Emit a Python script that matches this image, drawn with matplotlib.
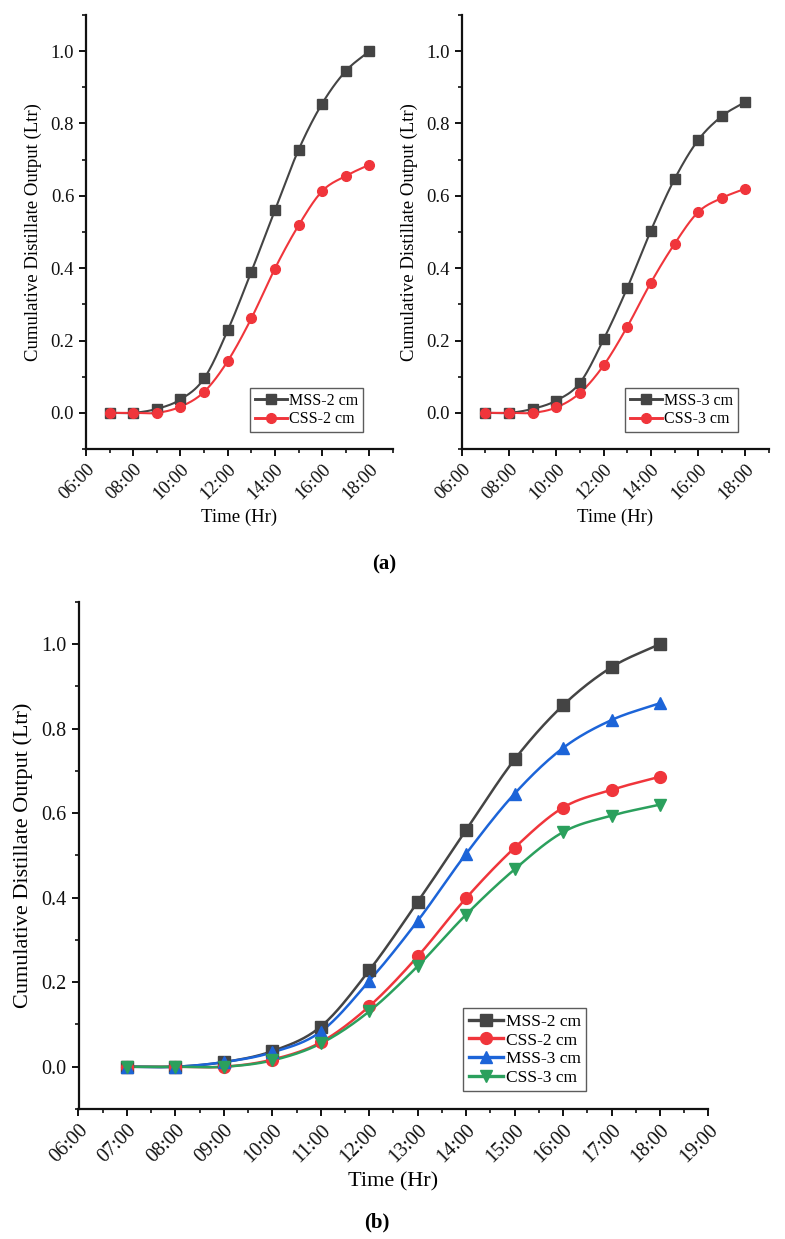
#!/usr/bin/env python3
"""Cumulative distillate output of MSS / CSS stills, panels (a) and (b)."""

import matplotlib
matplotlib.use("Agg")
import matplotlib.pyplot as plt
import numpy as np
from matplotlib.ticker import FuncFormatter, MultipleLocator

plt.rcParams["font.family"] = ["Liberation Serif", "DejaVu Serif"]

# hours of the day (07:00 .. 18:00)
HOURS = [7, 8, 9, 10, 11, 12, 13, 14, 15, 16, 17, 18]

MSS_2 = [0.0, 0.0, 0.011, 0.037, 0.095, 0.228, 0.390, 0.560, 0.727, 0.855, 0.945, 1.000]
CSS_2 = [0.0, 0.0, 0.0, 0.017, 0.058, 0.143, 0.261, 0.399, 0.518, 0.613, 0.655, 0.686]
MSS_3 = [0.0, 0.0, 0.011, 0.034, 0.083, 0.203, 0.345, 0.504, 0.646, 0.754, 0.820, 0.860]
CSS_3 = [0.0, 0.0, 0.0, 0.015, 0.055, 0.131, 0.238, 0.360, 0.467, 0.555, 0.594, 0.620]

NAMES = ["MSS-2 cm", "CSS-2 cm", "MSS-3 cm", "CSS-3 cm"]
SERIES = [MSS_2, CSS_2, MSS_3, CSS_3]

GREY = "#444444"
RED = "#F0353B"
BLUE = "#1C64D8"
GREEN = "#2BA05D"

YLABEL = "Cumulative Distillate Output (Ltr)"
XLABEL = "Time (Hr)"


def smooth(x, y, n=20):
    # cubic Hermite curve through the measured points (line only)
    x = np.asarray(x, float)
    y = np.asarray(y, float)
    m = np.gradient(y, x)
    xs, ys = [], []
    for i in range(len(x) - 1):
        h = x[i + 1] - x[i]
        t = np.linspace(0, 1, n, endpoint=False)
        h00 = 2 * t**3 - 3 * t**2 + 1
        h10 = t**3 - 2 * t**2 + t
        h01 = -2 * t**3 + 3 * t**2
        h11 = t**3 - t**2
        xs.append(x[i] + t * h)
        ys.append(h00 * y[i] + h10 * h * m[i] + h01 * y[i + 1] + h11 * h * m[i + 1])
    xs.append([x[-1]])
    ys.append([y[-1]])
    return np.concatenate(xs), np.concatenate(ys)


def draw(ax, items, ms, lw):
    # items: (series index, colour, marker)
    for i, col, mk in items:
        xs, ys = smooth(HOURS, SERIES[i])
        ax.plot(xs, ys, color=col, lw=lw, zorder=2)
        ax.plot(HOURS, SERIES[i], ls="none", marker=mk, ms=ms, color=col, zorder=3)
        ax.plot([], [], color=col, lw=lw + 0.6, marker=mk, ms=ms, label=NAMES[i])


def style_axes(ax, major_hours, minor_hours, tick_fs, label_fs):
    ax.set_xlim(6, 19)
    ax.set_ylim(-0.1, 1.1)
    ax.xaxis.set_major_locator(MultipleLocator(major_hours))
    ax.xaxis.set_minor_locator(MultipleLocator(minor_hours))
    ax.xaxis.set_major_formatter(FuncFormatter(lambda v, p: f"{int(round(v)):02d}:00"))
    ax.yaxis.set_major_locator(MultipleLocator(0.2))
    ax.yaxis.set_minor_locator(MultipleLocator(0.1))
    ax.yaxis.set_major_formatter(FuncFormatter(lambda v, p: f"{v:.1f}"))
    for sp in ("top", "right"):
        ax.spines[sp].set_visible(False)
    for sp in ("left", "bottom"):
        ax.spines[sp].set_linewidth(1.6)
        ax.spines[sp].set_color("#111111")
    ax.tick_params(which="major", direction="out", length=5, width=1.4,
                   labelsize=tick_fs, colors="#111111")
    ax.tick_params(which="minor", direction="out", length=3, width=1.2, colors="#111111")
    for lab in ax.get_xticklabels():
        lab.set_rotation(45)
        lab.set_ha("right")
        lab.set_rotation_mode("anchor")
    ax.set_xlabel(XLABEL, fontsize=label_fs, labelpad=4)
    ax.set_ylabel(YLABEL, fontsize=label_fs, labelpad=6)


fig = plt.figure(figsize=(7.85, 12.39), dpi=100)
fig.patch.set_facecolor("white")

ax1 = fig.add_axes([0.1096, 0.6376, 0.391, 0.3503])
ax2 = fig.add_axes([0.5882, 0.6376, 0.3915, 0.3503])
ax3 = fig.add_axes([0.1000, 0.1049, 0.8025, 0.4095])

draw(ax1, [(0, GREY, "s"), (1, RED, "o")], ms=7, lw=1.5)
draw(ax2, [(2, GREY, "s"), (3, RED, "o")], ms=7, lw=1.5)
draw(ax3, [(0, GREY, "s"), (1, RED, "o"), (2, BLUE, "^"), (3, GREEN, "v")], ms=8.5, lw=1.8)

style_axes(ax1, 2, 1, 13.5, 13.5)
style_axes(ax2, 2, 1, 13.5, 13.5)
style_axes(ax3, 1, 0.5, 14.5, 16)

leg_kw = dict(loc="lower left", frameon=True, fancybox=False, borderaxespad=0,
              handlelength=2.0, handletextpad=0.15, borderpad=0.3, labelspacing=0.15)

leg1 = ax1.legend(bbox_to_anchor=(0.534, 0.039), fontsize=11.5, **leg_kw)
leg2 = ax2.legend(bbox_to_anchor=(0.531, 0.039), fontsize=11.5, **leg_kw)
leg3 = ax3.legend(bbox_to_anchor=(0.611, 0.035), fontsize=12.5, **leg_kw)

for leg in (leg1, leg2, leg3):
    leg.get_frame().set_edgecolor("#333333")
    leg.get_frame().set_linewidth(1.0)

fig.text(0.49, 0.544, "(a)", ha="center", va="center", fontsize=15, fontweight="bold")
fig.text(0.48, 0.0137, "(b)", ha="center", va="center", fontsize=15, fontweight="bold")

fig.savefig("out.png", dpi=100)
